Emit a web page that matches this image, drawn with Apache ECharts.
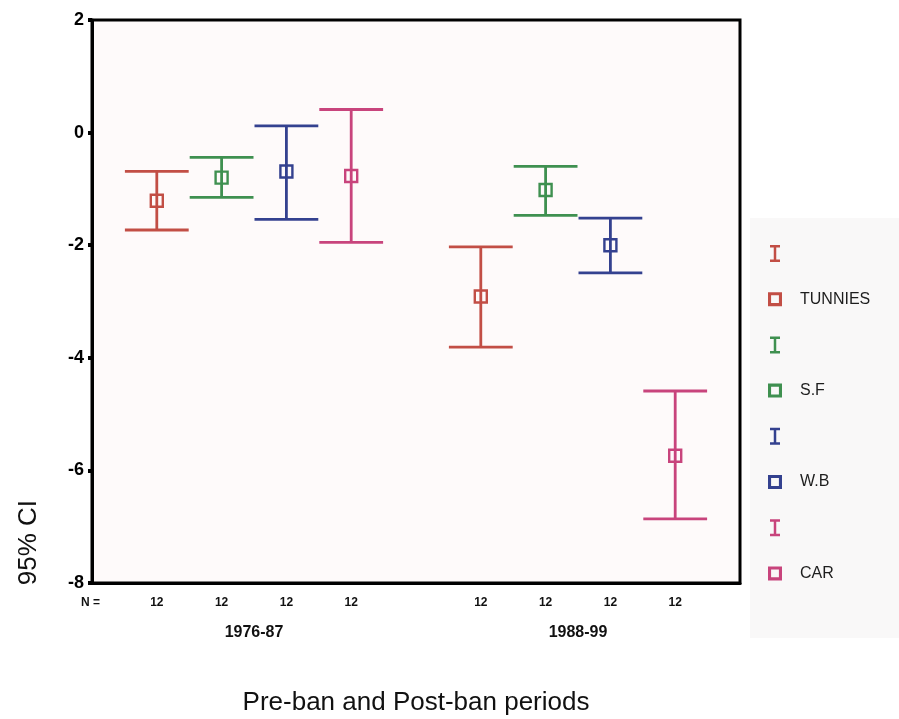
<!DOCTYPE html>
<html>
<head>
<meta charset="utf-8">
<title>95% CI by period</title>
<script src="https://cdn.jsdelivr.net/npm/echarts@6/dist/echarts.min.js"></script>
<style>
  html, body { margin: 0; padding: 0; background: #fff; }
  #chart { width: 899px; height: 719px; }
</style>
</head>
<body>
<div id="chart"></div>
<script>
// periods on the x axis
const periods = ["1976-87", "1988-99"];
const species = ["TUNNIES", "S.F", "W.B", "CAR"];
const colors = ["#c24e45", "#3f9050", "#34418f", "#c8447c"];

// 95% CI: lower bound, mean, upper bound (one value per period)
const tunniesLow = [-1.73, -3.81];
const tunniesMean = [-1.21, -2.91];
const tunniesHigh = [-0.69, -2.03];

const sfLow = [-1.15, -1.47];
const sfMean = [-0.8, -1.02];
const sfHigh = [-0.44, -0.6];

const wbLow = [-1.54, -2.49];
const wbMean = [-0.69, -2.0];
const wbHigh = [0.12, -1.52];

const carLow = [-1.95, -6.86];
const carMean = [-0.77, -5.74];
const carHigh = [0.41, -4.59];

// N per group
const sampleN = [12, 12];

const yTicks = { min: -8, max: 2, step: 2 };

const lows = [tunniesLow, sfLow, wbLow, carLow];
const means = [tunniesMean, sfMean, wbMean, carMean];
const highs = [tunniesHigh, sfHigh, wbHigh, carHigh];

const FONT = "Liberation Sans, Arial, sans-serif";

let chart = echarts.init(document.getElementById("chart"));

// error bar (whisker + caps)
function barSeries(k) {
  return {
    name: species[k] + " CI",
    type: "custom",
    itemStyle: { color: colors[k] },
    renderItem: function (params, api) {
      const cat = api.value(0);
      const band = api.size([1, 0])[0];
      const off = (k - 1.5) * band * 0.2;
      const top = api.coord([cat, api.value(2)]);
      const bot = api.coord([cat, api.value(1)]);
      const x = top[0] + off;
      const half = band * 0.1 - 0.5;
      const st = { stroke: colors[k], lineWidth: 2.8 };
      return {
        type: "group",
        children: [
          { type: "line", shape: { x1: x, y1: top[1], x2: x, y2: bot[1] }, style: st },
          { type: "line", shape: { x1: x - half, y1: top[1], x2: x + half, y2: top[1] }, style: st },
          { type: "line", shape: { x1: x - half, y1: bot[1], x2: x + half, y2: bot[1] }, style: st },
        ],
      };
    },
    data: periods.map((p, i) => [i, lows[k][i], highs[k][i]]),
  };
}

// mean marker + N label
function meanSeries(k) {
  return {
    name: species[k],
    type: "custom",
    itemStyle: { color: colors[k] },
    renderItem: function (params, api) {
      const cat = api.value(0);
      const band = api.size([1, 0])[0];
      const off = (k - 1.5) * band * 0.2;
      const pt = api.coord([cat, api.value(1)]);
      const base = api.coord([cat, yTicks.min]);
      const x = pt[0] + off;
      const s = 12;
      return {
        type: "group",
        children: [
          {
            type: "rect",
            shape: { x: x - s / 2, y: pt[1] - s / 2, width: s, height: s },
            style: { fill: null, stroke: colors[k], lineWidth: 2.4 },
          },
          {
            type: "text",
            x: x,
            y: base[1] + 20,
            style: {
              text: String(api.value(2)),
              fill: "#111",
              font: "bold 12px " + FONT,
              align: "center",
              verticalAlign: "middle",
            },
          },
        ],
      };
    },
    data: periods.map((p, i) => [i, means[k][i], sampleN[i]]),
  };
}

let series = [];
let legendData = [];
for (let k = 0; k < species.length; k++) {
  series.push(barSeries(k));
  series.push(meanSeries(k));
  legendData.push({
    name: species[k] + " CI",
    icon: "path://M0,0h10v2.5h-3.75v12h3.75v2.5h-10v-2.5h3.75v-12h-3.75z",
  });
  legendData.push({ name: species[k], icon: "path://M0,0h10v10h-10z M2.2,2.2v5.6h5.6v-5.6z" });
}

let option = {
  backgroundColor: "#fff",
  animation: false,
  grid: {
    left: 92,
    right: 159,
    top: 20,
    bottom: 136,
    outerBoundsMode: "none",
    show: true,
    backgroundColor: "#fefafa",
    borderColor: "#000",
    borderWidth: 3,
  },
  legend: {
    orient: "vertical",
    left: 763,
    top: 240,
    itemWidth: 14,
    itemHeight: 17,
    itemGap: 29.2,
    selectedMode: false,
    data: legendData,
    formatter: function (name) {
      return name.endsWith(" CI") ? "" : name;
    },
    textStyle: { color: "#1e1e1e", fontSize: 16, fontFamily: FONT, padding: [0, 0, 0, 13] },
  },
  graphic: [
    {
      type: "rect",
      left: 750,
      top: 218,
      z: -1,
      shape: { width: 149, height: 420 },
      style: { fill: "#f9f8f8" },
    },
    {
      type: "text",
      left: 16,
      top: 500,
      rotation: Math.PI / 2,
      style: { text: "95% CI", fill: "#111", font: "26px " + FONT },
    },
    {
      type: "text",
      left: 81,
      top: 597,
      style: { text: "N =", fill: "#111", font: "bold 12px " + FONT },
    },
  ],
  xAxis: {
    type: "category",
    data: periods,
    name: "Pre-ban and Post-ban periods",
    nameLocation: "middle",
    nameGap: 107,
    nameTextStyle: { color: "#111", fontSize: 26, fontFamily: FONT },
    axisLine: { onZero: false, lineStyle: { color: "#000", width: 3 } },
    axisTick: { alignWithLabel: true, length: 4, lineStyle: { color: "#333", width: 4 } },
    axisLabel: { color: "#111", fontSize: 16, fontWeight: "bold", fontFamily: FONT, margin: 42 },
  },
  yAxis: {
    type: "value",
    min: yTicks.min,
    max: yTicks.max,
    interval: yTicks.step,
    splitLine: { show: false },
    axisLine: { show: true, lineStyle: { color: "#000", width: 3 } },
    axisTick: { show: true, length: 4, lineStyle: { color: "#000", width: 4 } },
    axisLabel: { color: "#000", fontSize: 18, fontWeight: "bold", fontFamily: FONT, margin: 8 },
  },
  series: series,
};

chart.setOption(option, true);
</script>
</body>
</html>
